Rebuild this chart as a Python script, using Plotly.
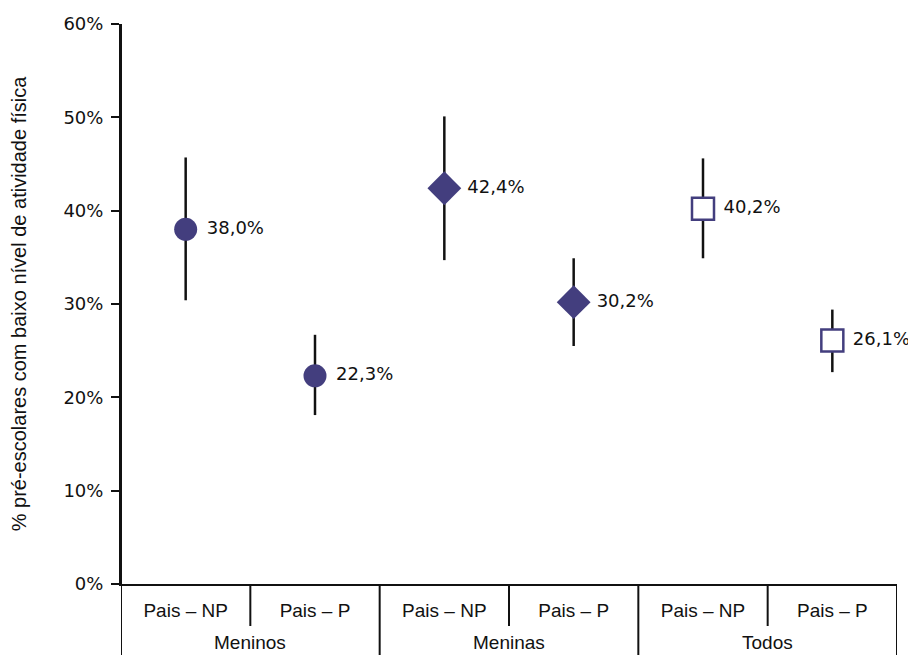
import plotly.graph_objects as go

grupos = ["Meninos", "Meninas", "Todos"]
subgrupos = ["Pais – NP", "Pais – P"]
valores = [38.0, 22.3, 42.4, 30.2, 40.2, 26.1]
ic_sup = [45.7, 26.7, 50.1, 34.9, 45.6, 29.4]
ic_inf = [30.4, 18.1, 34.7, 25.5, 34.9, 22.7]
rotulos = ["38,0%", "22,3%", "42,4%", "30,2%", "40,2%", "26,1%"]
y_ticks = [0, 10, 20, 30, 40, 50, 60]

COR = "#433e7e"
NARROW = "Liberation Sans Narrow, Arial Narrow, sans-serif"
WIDE = "DejaVu Sans, sans-serif"

simbolos = [
    dict(symbol="circle", size=23, color=COR, line=dict(width=0)),
    dict(symbol="diamond", size=26, color=COR, line=dict(width=0)),
    dict(symbol="square", size=22, color="white", line=dict(width=2.5, color=COR)),
]

fig = go.Figure()
for g in range(len(grupos)):
    idx = [2 * g, 2 * g + 1]
    fig.add_trace(go.Scatter(
        x=idx,
        y=[valores[i] for i in idx],
        mode="markers+text",
        text=[" " + rotulos[i] for i in idx],
        textposition="middle right",
        textfont=dict(family=WIDE, size=18, color="#111111"),
        marker=simbolos[g],
        error_y=dict(
            type="data", symmetric=False,
            array=[ic_sup[i] - valores[i] for i in idx],
            arrayminus=[valores[i] - ic_inf[i] for i in idx],
            width=0, thickness=2.5, color="#111111",
        ),
        showlegend=False,
        cliponaxis=False,
    ))

n = len(valores)
shapes = []
for b in range(n + 1):
    xb = b - 0.5
    longo = (b % 2 == 0)
    shapes.append(dict(
        type="line", xref="x", yref="paper",
        x0=xb, x1=xb, y0=0 if b > 0 else 1.0, y1=-0.13 if longo else -0.075,
        line=dict(color="#111111", width=2),
    ))

annotations = []
for g, nome in enumerate(grupos):
    annotations.append(dict(
        x=2 * g + 0.5, y=-0.105, xref="x", yref="paper",
        text=nome, showarrow=False, xanchor="center", yanchor="middle",
        font=dict(family=NARROW, size=19, color="#111111"),
    ))

fig.update_layout(
    width=908, height=647,
    margin=dict(l=113, r=19, t=16, b=71, autoexpand=False),
    paper_bgcolor="white", plot_bgcolor="white",
    shapes=shapes, annotations=annotations,
    xaxis=dict(
        range=[-0.5, n - 0.5], showgrid=False, zeroline=False, automargin=False,
        showline=True, linecolor="#111111", linewidth=2,
        tickmode="array", tickvals=list(range(n)),
        ticktext=[subgrupos[i % 2] for i in range(n)],
        ticks="", ticklabelstandoff=8,
        tickfont=dict(family=NARROW, size=19, color="#111111"),
    ),
    yaxis=dict(
        range=[0, 60], showgrid=False, zeroline=False, automargin=False,
        showline=True, linecolor="#111111", linewidth=2,
        tickmode="array", tickvals=y_ticks,
        ticktext=[f"{v}%" for v in y_ticks],
        ticks="outside", ticklen=8, tickwidth=2, tickcolor="#111111",
        ticklabelstandoff=4,
        tickfont=dict(family=WIDE, size=18, color="#111111"),
        title=dict(text="% pré-escolares com baixo nível de atividade física",
                   font=dict(family=NARROW, size=20, color="#111111"),
                   standoff=40),
    ),
)

fig.write_html("out.html")
